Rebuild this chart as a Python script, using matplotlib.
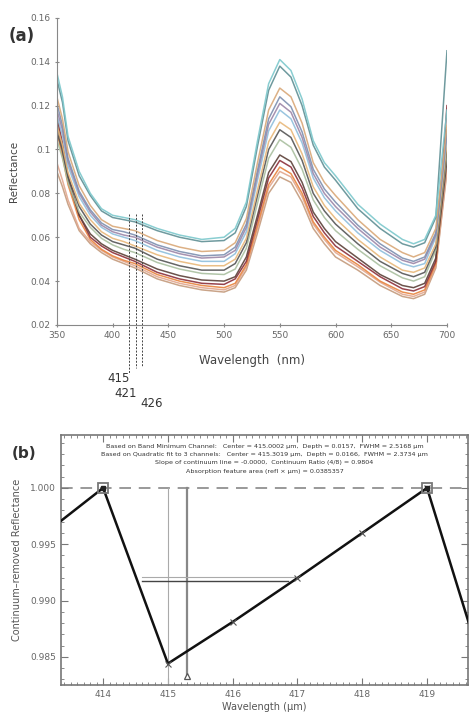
import numpy as np
import matplotlib.pyplot as plt
from matplotlib.ticker import MultipleLocator

# ---- panel (a): reflectance spectra ----
wl = [350, 355, 360, 370, 380, 390, 400, 410, 420, 440, 460, 480, 500, 510, 520,
      530, 540, 550, 560, 570, 580, 590, 600, 620, 640, 660, 670, 680, 690, 700]

teal = [.135, .124, .106, .090, .080, .073, .070, .069, .068, .064, .061, .059, .060, .064, .076,
        .104, .130, .141, .136, .123, .104, .094, .088, .075, .066, .059, .057, .059, .070, .118]
dark_teal = [.132, .1215, .104, .088, .079, .072, .069, .068, .067, .063, .060, .058, .0585, .062, .074,
             .1015, .127, .138, .133, .120, .102, .092, .086, .073, .064, .057, .0555, .0575, .069, .145]
tan = [.124, .114, .099, .0835, .0745, .068, .065, .064, .063, .0585, .0555, .0535, .054, .0575, .0685,
       .094, .118, .128, .124, .112, .094, .085, .079, .068, .059, .053, .051, .053, .064, .111]
blue_gray = [.121, .111, .096, .081, .0725, .0665, .0635, .0625, .061, .0565, .0535, .0515, .052, .0555, .066,
             .0905, .114, .124, .1195, .108, .091, .082, .076, .0655, .057, .0505, .049, .051, .062, .109]
mauve = [.118, .109, .0945, .080, .0715, .0655, .0625, .061, .060, .0555, .0525, .0505, .051, .054, .0645,
         .0885, .1115, .121, .117, .1055, .089, .080, .074, .064, .0555, .0495, .048, .050, .061, .108]
light_blue = [.1155, .1065, .0925, .0785, .070, .0645, .0615, .060, .0585, .054, .051, .049, .049, .0525, .0625,
              .086, .1085, .118, .114, .103, .087, .078, .072, .062, .054, .048, .0465, .048, .060, .106]
light_orange = [.111, .102, .0895, .0755, .068, .0625, .0595, .058, .056, .052, .049, .047, .047, .050, .0595,
                .0815, .1035, .1125, .109, .098, .083, .0745, .0685, .059, .051, .045, .044, .046, .057, .103]
dark_gray = [.108, .0995, .0875, .074, .066, .061, .058, .0565, .055, .050, .047, .045, .045, .048, .0575,
             .079, .100, .109, .1055, .095, .080, .072, .066, .057, .049, .0435, .042, .044, .0555, .101]
sage = [.1045, .096, .085, .0715, .0645, .0595, .0565, .0545, .053, .0485, .0455, .0435, .043, .0455, .055,
        .0755, .096, .1045, .101, .091, .077, .069, .063, .0545, .047, .0415, .040, .042, .054, .099]
dark_brown = [.112, .100, .086, .070, .0615, .057, .054, .052, .050, .0455, .0425, .0405, .040, .042, .051,
              .070, .0895, .0975, .0945, .085, .0715, .064, .058, .0505, .043, .038, .037, .039, .0505, .095]
maroon = [.115, .103, .088, .070, .060, .056, .053, .051, .049, .044, .041, .039, .0385, .041, .049,
          .068, .087, .095, .092, .0825, .0695, .062, .056, .049, .042, .0365, .0355, .0375, .049, .120]
orange = [.108, .097, .084, .068, .059, .0545, .0515, .0495, .048, .043, .040, .038, .037, .039, .0475,
          .0655, .084, .092, .089, .080, .067, .060, .054, .0475, .040, .035, .034, .036, .048, .100]
salmon = [.094, .086, .077, .064, .058, .054, .051, .049, .047, .042, .039, .037, .036, .038, .0465,
          .064, .0825, .090, .0875, .0785, .066, .059, .053, .0465, .0395, .034, .033, .035, .047, .091]
light_brown = [.090, .083, .075, .063, .057, .053, .050, .048, .046, .041, .038, .036, .035, .037, .045,
               .062, .080, .0875, .085, .076, .064, .057, .051, .045, .038, .033, .032, .034, .046, .090]

spectra = [light_brown, salmon, orange, maroon, dark_brown, sage, dark_gray, light_orange,
           light_blue, mauve, blue_gray, tan, dark_teal, teal]
colors = ['#c49a7c', '#e2a78e', '#e8843e', '#8c2f3a', '#5c4038', '#a9bf9f', '#555555', '#e8b87a',
          '#8fbfdc', '#9c86a8', '#7d8fb0', '#d9a878', '#5f8f94', '#7cc8cc']

marked_wl = [415, 421, 426]

# ---- panel (b): continuum-removed reflectance ----
wl_b = [413, 414, 415, 416, 417, 418, 419, 420]
cr_b = [0.9955, 1.000, 0.9844, 0.9881, 0.9920, 0.9960, 1.000, 0.9814]
cont_wl = [414, 419]
cont_val = [1.000, 1.000]
min_wl, quad_wl, quad_val = 415.0, 415.3, 0.9833
fwhm1 = ([414.6, 416.85], 0.9917)
fwhm2 = ([414.6, 417.0], 0.9921)
info = ["Based on Band Minimum Channel:   Center = 415.0002 \u00b5m,  Depth = 0.0157,  FWHM = 2.5168 \u00b5m",
        "Based on Quadratic fit to 3 channels:   Center = 415.3019 \u00b5m,  Depth = 0.0166,  FWHM = 2.3734 \u00b5m",
        "Slope of continuum line = -0.0000,  Continuum Ratio (4/8) = 0.9804",
        "Absorption feature area (refl \u00d7 \u00b5m) = 0.0385357"]

fig = plt.figure(figsize=(4.74, 7.15), dpi=100)
gray = '#666666'

ax = fig.add_axes([0.120, 0.5455, 0.823, 0.4295])
for s, c in zip(spectra, colors):
    ax.plot(wl, s, color=c, lw=1.1, alpha=0.9)
ax.set_xlim(350, 700)
ax.set_ylim(0.02, 0.16)
ax.set_xticks(range(350, 701, 50))
ax.set_yticks([0.02, 0.04, 0.06, 0.08, 0.1, 0.12, 0.14, 0.16])
ax.set_yticklabels(['0.02', '0.04', '0.06', '0.08', '0.1', '0.12', '0.14', '0.16'])
for sp in ['top', 'right']:
    ax.spines[sp].set_visible(False)
for sp in ['left', 'bottom']:
    ax.spines[sp].set_color('#888888')
ax.tick_params(direction='inout', length=3, color='#888888', labelsize=6.5, labelcolor=gray, pad=3)
ax.set_xlabel('Wavelength  (nm)', fontsize=8.5, color='#444444', labelpad=10)
ax.set_ylabel('Reflectance', fontsize=7.5, color='#444444', labelpad=8)
fig.text(0.018, 0.942, '(a)', fontsize=12, fontweight='bold', color='#333333')

ends = [-0.0025, 0.0005, 0.0010]
for w, e in zip(marked_wl, ends):
    ax.plot([w, w], [0.0705, e], ls=(0, (2, 1.5)), color='#444444', lw=0.7, clip_on=False)
ax.text(415.5, -0.0015, '415', ha='right', va='top', fontsize=8.5, color='#333333')
ax.text(421.5, -0.0085, '421', ha='right', va='top', fontsize=8.5, color='#333333')
ax.text(424.5, -0.0130, '426', ha='left', va='top', fontsize=8.5, color='#333333')

bx = fig.add_axes([0.1287, 0.042, 0.8583, 0.3496])
bx.plot(wl_b, cr_b, color='#111111', lw=1.8, zorder=3)
bx.axhline(1.0, color='#999999', lw=1.4, ls=(0, (6, 4)), zorder=1)
bx.plot(cont_wl, cont_val, 's', ms=7, mfc='none', mec='#777777', mew=1.3, zorder=4)
bx.plot(cont_wl, cont_val, 's', ms=2.5, color='#222222', zorder=5)
bx.plot(wl_b[2:7], cr_b[2:7], 'x', ms=4, color='#555555', mew=0.8, zorder=4)
bx.plot([min_wl, min_wl], [0.9825, 1.0], color='#aaaaaa', lw=0.8, zorder=2)
bx.plot([quad_wl, quad_wl], [quad_val, 1.0], color='#888888', lw=1.6, zorder=2)
bx.plot([quad_wl], [quad_val], '^', ms=5, mfc='white', mec='#555555', mew=0.9, zorder=5)
bx.plot(fwhm2[0], [fwhm2[1]] * 2, color='#aaaaaa', lw=0.8, zorder=2)
bx.plot(fwhm1[0], [fwhm1[1]] * 2, color='#444444', lw=1.0, zorder=2)
bx.set_xlim(413.35, 419.63)
bx.set_ylim(0.9825, 1.0047)
bx.set_yticks([0.985, 0.990, 0.995, 1.000])
bx.set_yticklabels(['0.985', '0.990', '0.995', '1.000'])
bx.xaxis.set_minor_locator(MultipleLocator(0.1))
bx.yaxis.set_minor_locator(MultipleLocator(0.001))
bx.tick_params(which='both', direction='in', top=True, right=True, color='#777777')
bx.tick_params(which='major', length=5, labelsize=6.5, labelcolor=gray)
bx.tick_params(which='minor', length=2.5)
for sp in bx.spines.values():
    sp.set_color('#777777')
    sp.set_linewidth(1.2)
bx.set_xlabel('Wavelength (\u00b5m)', fontsize=7, color='#555555', labelpad=2)
bx.set_ylabel('Continuum\u2013removed Reflectance', fontsize=7, color='#555555', labelpad=6)
for i, line in enumerate(info):
    bx.text(0.5, 0.955 - i * 0.033, line, transform=bx.transAxes, ha='center', va='center',
            fontsize=4.6, color='#333333')
fig.text(0.025, 0.36, '(b)', fontsize=11, fontweight='bold', color='#333333')

fig.savefig('out.png', dpi=100)
